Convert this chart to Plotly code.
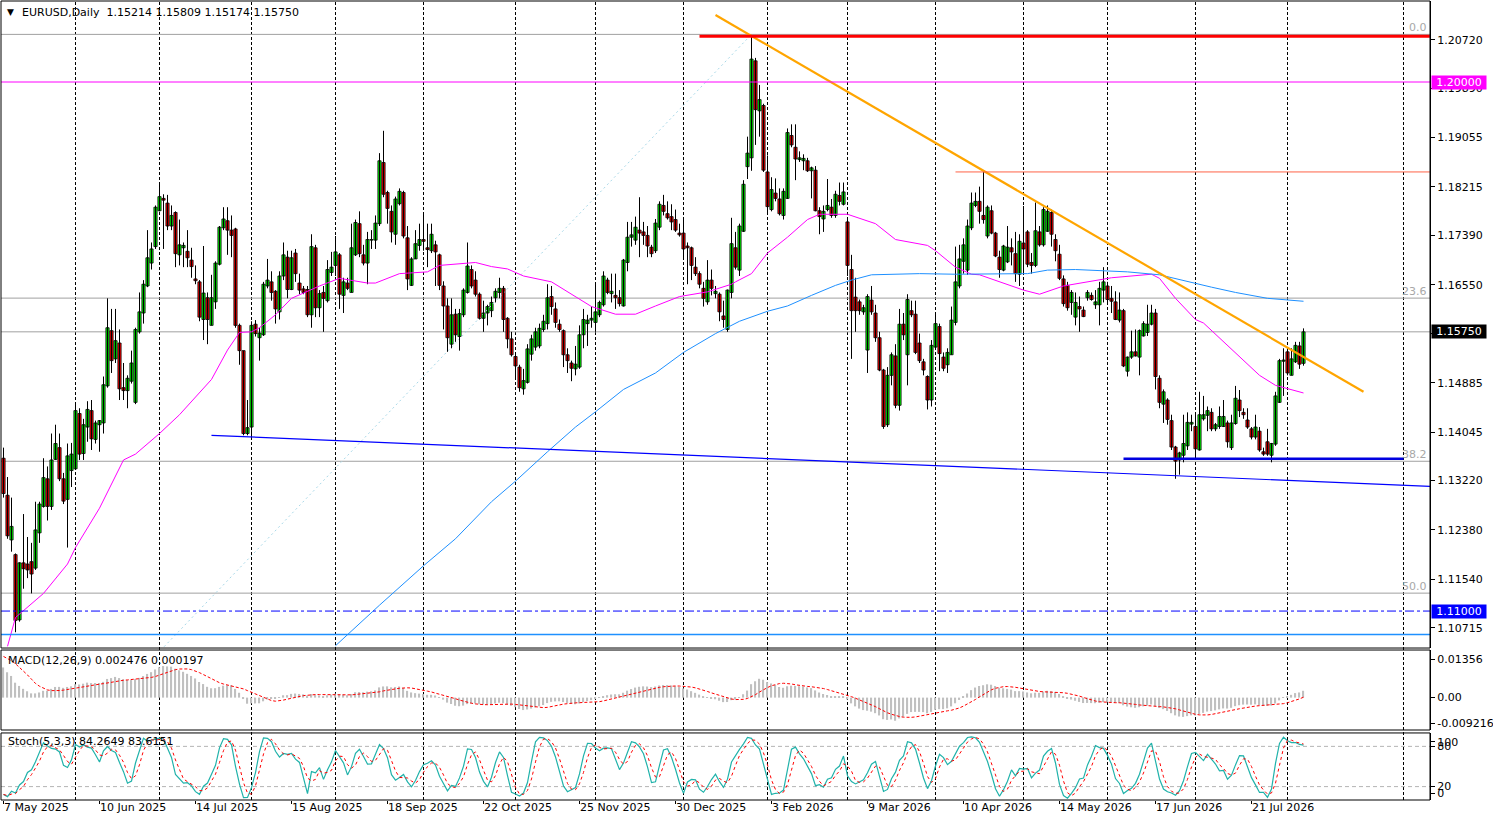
import pandas as pd
import numpy as np
import plotly.graph_objects as go

# ---------------- data ----------------
# MT4 daily bars: business days without 25 Dec / 1 Jan
skip_days = ("12-25", "01-01")
all_days = [d for d in pd.bdate_range("2025-05-07", periods=340) if d.strftime("%m-%d") not in skip_days]

opens = [
    1.1360, 1.1297, 1.1221, 1.1196, 1.1085, 1.1182, 1.1180, 1.1184, 1.1173, 1.1233,
    1.1278, 1.1325, 1.1278, 1.1358, 1.1378, 1.1325, 1.1290, 1.1339, 1.1342, 1.1436,
    1.1368, 1.1413, 1.1441, 1.1392, 1.1417, 1.1420, 1.1483, 1.1577, 1.1529, 1.1556,
    1.1480, 1.1475, 1.1491, 1.1455, 1.1575, 1.1607, 1.1653, 1.1692, 1.1720, 1.1781,
    1.1802, 1.1794, 1.1755, 1.1778, 1.1706, 1.1718, 1.1712, 1.1697, 1.1665, 1.1660,
    1.1596, 1.1633, 1.1586, 1.1626, 1.1690, 1.1752, 1.1764, 1.1748, 1.1750, 1.1586,
    1.1543, 1.1402, 1.1413, 1.1588, 1.1565, 1.1570, 1.1653, 1.1660, 1.1644, 1.1609,
    1.1670, 1.1702, 1.1647, 1.1709, 1.1658, 1.1648, 1.1647, 1.1604, 1.1718, 1.1616,
    1.1642, 1.1628, 1.1676, 1.1688, 1.1706, 1.1637, 1.1658, 1.1642, 1.1706, 1.1759,
    1.1706, 1.1692, 1.1731, 1.1731, 1.1759, 1.1863, 1.1812, 1.1780, 1.1741, 1.1793,
    1.1812, 1.1735, 1.1654, 1.1699, 1.1722, 1.1732, 1.1718, 1.1713, 1.1723, 1.1706,
    1.1653, 1.1619, 1.1554, 1.1605, 1.1567, 1.1604, 1.1642, 1.1681, 1.1663, 1.1639,
    1.1598, 1.1607, 1.1611, 1.1633, 1.1642, 1.1649, 1.1598, 1.1563, 1.1533, 1.1515,
    1.1478, 1.1489, 1.1537, 1.1549, 1.1551, 1.1579, 1.1589, 1.1635, 1.1614, 1.1588,
    1.1577, 1.1536, 1.1522, 1.1512, 1.1515, 1.1570, 1.1589, 1.1595, 1.1591, 1.1604,
    1.1621, 1.1663, 1.1640, 1.1637, 1.1633, 1.1619, 1.1693, 1.1736, 1.1731, 1.1748,
    1.1745, 1.1739, 1.1719, 1.1713, 1.1753, 1.1790, 1.1776, 1.1771, 1.1766, 1.1743,
    1.1743, 1.1721, 1.1718, 1.1685, 1.1674, 1.1649, 1.1626, 1.1663, 1.1640, 1.1639,
    1.1602, 1.1579, 1.1642, 1.1718, 1.1680, 1.1746, 1.1856, 1.1871, 1.2036, 1.1951,
    1.1960, 1.1847, 1.1783, 1.1811, 1.1801, 1.1773, 1.1802, 1.1909, 1.1889, 1.1868,
    1.1866, 1.1866, 1.1849, 1.1850, 1.1781, 1.1767, 1.1783, 1.1787, 1.1773, 1.1807,
    1.1792, 1.1762, 1.1681, 1.1634, 1.1626, 1.1609, 1.1544, 1.1629, 1.1607, 1.1565,
    1.1510, 1.1417, 1.1501, 1.1534, 1.1450, 1.1588, 1.1536, 1.1611, 1.1605, 1.1556,
    1.1524, 1.1499, 1.1459, 1.1549, 1.1584, 1.1532, 1.1519, 1.1536, 1.1591, 1.1653,
    1.1695, 1.1680, 1.1752, 1.1790, 1.1797, 1.1773, 1.1738, 1.1781, 1.1743, 1.1702,
    1.1680, 1.1694, 1.1718, 1.1708, 1.1673, 1.1726, 1.1745, 1.1693, 1.1688, 1.1745,
    1.1723, 1.1746, 1.1778, 1.1732, 1.1707, 1.1665, 1.1654, 1.1625, 1.1600, 1.1618,
    1.1612, 1.1633, 1.1637, 1.1621, 1.1621, 1.1646, 1.1653, 1.1632, 1.1626, 1.1595,
    1.1611, 1.1508, 1.1532, 1.1541, 1.1532, 1.1568, 1.1574, 1.1588, 1.1607, 1.1496,
    1.1452, 1.1459, 1.1424, 1.1379, 1.1357, 1.1365, 1.1381, 1.1418, 1.1414, 1.1374,
    1.1427, 1.1433, 1.1438, 1.1410, 1.1414, 1.1414, 1.1420, 1.1378, 1.1419, 1.1459,
    1.1438, 1.1425, 1.1410, 1.1396, 1.1406, 1.1371, 1.1388, 1.1365, 1.1384, 1.1455,
    1.1525, 1.1541, 1.1501, 1.1524, 1.1551, 1.15214,
]
highs = [
    1.1378, 1.1328, 1.1293, 1.1198, 1.1183, 1.1265, 1.1226, 1.1216, 1.1286, 1.1286,
    1.1360, 1.1346, 1.1402, 1.1417, 1.1402, 1.1335, 1.1385, 1.1386, 1.1452, 1.1445,
    1.1427, 1.1457, 1.1459, 1.1424, 1.1425, 1.1499, 1.1632, 1.1614, 1.1614, 1.1579,
    1.1522, 1.1501, 1.1543, 1.1582, 1.1642, 1.1663, 1.1748, 1.1727, 1.1790, 1.1829,
    1.1809, 1.1808, 1.1790, 1.1780, 1.1766, 1.1727, 1.1748, 1.1718, 1.1688, 1.1663,
    1.1721, 1.1642, 1.1672, 1.1695, 1.1755, 1.1787, 1.1787, 1.1773, 1.1752, 1.1589,
    1.1543, 1.1459, 1.1593, 1.1595, 1.1582, 1.1660, 1.1699, 1.1678, 1.1646, 1.1678,
    1.1727, 1.1713, 1.1713, 1.1716, 1.1674, 1.1653, 1.1653, 1.1741, 1.1723, 1.1646,
    1.1653, 1.1697, 1.1711, 1.1738, 1.1709, 1.1667, 1.1667, 1.1759, 1.1766, 1.1780,
    1.1723, 1.1745, 1.1748, 1.1773, 1.1879, 1.1917, 1.1815, 1.1790, 1.1805, 1.1819,
    1.1815, 1.1755, 1.1702, 1.1748, 1.1759, 1.1776, 1.1759, 1.1759, 1.1730, 1.1708,
    1.1661, 1.1632, 1.1632, 1.1614, 1.1614, 1.1649, 1.1727, 1.1688, 1.1678, 1.1642,
    1.1628, 1.1621, 1.1635, 1.1649, 1.1667, 1.1653, 1.1600, 1.1575, 1.1536, 1.1519,
    1.1512, 1.1554, 1.1570, 1.1582, 1.1589, 1.1604, 1.1656, 1.1653, 1.1625, 1.1596,
    1.1579, 1.1547, 1.1526, 1.1551, 1.1586, 1.1614, 1.1604, 1.1618, 1.1656, 1.1628,
    1.1678, 1.1667, 1.1674, 1.1674, 1.1646, 1.1699, 1.1762, 1.1762, 1.1771, 1.1804,
    1.1762, 1.1755, 1.1723, 1.1767, 1.1797, 1.1808, 1.1797, 1.1792, 1.1783, 1.1759,
    1.1766, 1.1727, 1.1720, 1.1702, 1.1678, 1.1660, 1.1697, 1.1681, 1.1653, 1.1642,
    1.1628, 1.1647, 1.1769, 1.1745, 1.1759, 1.1833, 1.1907, 1.2080, 1.2041, 1.1995,
    1.1963, 1.1875, 1.1838, 1.1836, 1.1819, 1.1819, 1.1921, 1.1928, 1.1928, 1.1882,
    1.1877, 1.1871, 1.1856, 1.1857, 1.1787, 1.1790, 1.1835, 1.1801, 1.1815, 1.1829,
    1.1829, 1.1766, 1.1706, 1.1667, 1.1630, 1.1621, 1.1639, 1.1653, 1.1621, 1.1575,
    1.1512, 1.1515, 1.1540, 1.1554, 1.1614, 1.1607, 1.1639, 1.1628, 1.1628, 1.1572,
    1.1529, 1.1501, 1.1561, 1.1607, 1.1589, 1.1540, 1.1547, 1.1618, 1.1720, 1.1723,
    1.1734, 1.1766, 1.1812, 1.1812, 1.1822, 1.1850, 1.1790, 1.1790, 1.1745, 1.1713,
    1.1723, 1.1755, 1.1734, 1.1745, 1.1741, 1.1789, 1.1748, 1.1709, 1.1795, 1.1755,
    1.1787, 1.1790, 1.1783, 1.1741, 1.1723, 1.1671, 1.1660, 1.1646, 1.1642, 1.1635,
    1.1618, 1.1646, 1.1642, 1.1646, 1.1660, 1.1685, 1.1660, 1.1653, 1.1644, 1.1642,
    1.1614, 1.1533, 1.1577, 1.1579, 1.1579, 1.1593, 1.1621, 1.1621, 1.1614, 1.1501,
    1.1477, 1.1462, 1.1434, 1.1381, 1.1371, 1.1434, 1.1438, 1.1434, 1.1434, 1.1473,
    1.1466, 1.1448, 1.1445, 1.1420, 1.1448, 1.1459, 1.1424, 1.1434, 1.1483, 1.1476,
    1.1445, 1.1445, 1.1413, 1.1434, 1.1413, 1.1378, 1.1410, 1.1386, 1.1473, 1.1529,
    1.1547, 1.1547, 1.1547, 1.1558, 1.1558, 1.15809,
]
lows = [
    1.1293, 1.1223, 1.1201, 1.1064, 1.1082, 1.1138, 1.1156, 1.1130, 1.1170, 1.1216,
    1.1276, 1.1254, 1.1272, 1.1357, 1.1321, 1.1282, 1.1208, 1.1311, 1.1340, 1.1357,
    1.1357, 1.1388, 1.1374, 1.1385, 1.1371, 1.1402, 1.1480, 1.1505, 1.1522, 1.1459,
    1.1459, 1.1445, 1.1487, 1.1452, 1.1572, 1.1589, 1.1651, 1.1681, 1.1716, 1.1780,
    1.1716, 1.1748, 1.1748, 1.1685, 1.1688, 1.1685, 1.1685, 1.1667, 1.1656, 1.1593,
    1.1561, 1.1554, 1.1586, 1.1614, 1.1688, 1.1748, 1.1706, 1.1702, 1.1582, 1.1519,
    1.1399, 1.1399, 1.1395, 1.1567, 1.1526, 1.1568, 1.1649, 1.1628, 1.1589, 1.1596,
    1.1663, 1.1632, 1.1646, 1.1660, 1.1639, 1.1639, 1.1600, 1.1582, 1.1600, 1.1600,
    1.1575, 1.1625, 1.1670, 1.1670, 1.1614, 1.1607, 1.1646, 1.1642, 1.1704, 1.1702,
    1.1688, 1.1656, 1.1716, 1.1716, 1.1755, 1.1804, 1.1759, 1.1727, 1.1723, 1.1790,
    1.1734, 1.1646, 1.1653, 1.1699, 1.1713, 1.1713, 1.1685, 1.1709, 1.1653, 1.1646,
    1.1579, 1.1541, 1.1547, 1.1558, 1.1543, 1.1600, 1.1640, 1.1649, 1.1635, 1.1596,
    1.1575, 1.1586, 1.1600, 1.1625, 1.1632, 1.1575, 1.1547, 1.1533, 1.1498, 1.1473,
    1.1468, 1.1487, 1.1526, 1.1543, 1.1547, 1.1575, 1.1579, 1.1604, 1.1582, 1.1575,
    1.1515, 1.1505, 1.1491, 1.1501, 1.1512, 1.1547, 1.1551, 1.1582, 1.1575, 1.1600,
    1.1618, 1.1639, 1.1625, 1.1614, 1.1618, 1.1618, 1.1678, 1.1720, 1.1723, 1.1702,
    1.1723, 1.1702, 1.1702, 1.1709, 1.1748, 1.1773, 1.1766, 1.1748, 1.1745, 1.1737,
    1.1699, 1.1656, 1.1663, 1.1670, 1.1649, 1.1618, 1.1621, 1.1637, 1.1632, 1.1593,
    1.1582, 1.1575, 1.1632, 1.1681, 1.1670, 1.1745, 1.1835, 1.1849, 1.1893, 1.1907,
    1.1847, 1.1776, 1.1780, 1.1797, 1.1773, 1.1766, 1.1801, 1.1889, 1.1833, 1.1864,
    1.1850, 1.1847, 1.1802, 1.1780, 1.1741, 1.1745, 1.1780, 1.1769, 1.1769, 1.1790,
    1.1790, 1.1670, 1.1529, 1.1575, 1.1604, 1.1604, 1.1505, 1.1604, 1.1558, 1.1508,
    1.1410, 1.1413, 1.1484, 1.1445, 1.1441, 1.1561, 1.1484, 1.1600, 1.1537, 1.1522,
    1.1501, 1.1443, 1.1448, 1.1547, 1.1508, 1.1508, 1.1505, 1.1536, 1.1586, 1.1649,
    1.1674, 1.1672, 1.1748, 1.1787, 1.1759, 1.1759, 1.1734, 1.1741, 1.1702, 1.1667,
    1.1678, 1.1692, 1.1688, 1.1660, 1.1653, 1.1674, 1.1685, 1.1674, 1.1685, 1.1720,
    1.1720, 1.1745, 1.1720, 1.1695, 1.1663, 1.1618, 1.1611, 1.1604, 1.1586, 1.1575,
    1.1600, 1.1628, 1.1628, 1.1614, 1.1586, 1.1625, 1.1621, 1.1607, 1.1595, 1.1591,
    1.1515, 1.1499, 1.1529, 1.1533, 1.1501, 1.1567, 1.1568, 1.1586, 1.1477, 1.1445,
    1.1420, 1.1417, 1.1374, 1.1325, 1.1332, 1.1353, 1.1374, 1.1406, 1.1360, 1.1373,
    1.1424, 1.1406, 1.1406, 1.1406, 1.1410, 1.1413, 1.1378, 1.1374, 1.1417, 1.1430,
    1.1427, 1.1410, 1.1392, 1.1392, 1.1371, 1.1364, 1.1364, 1.1353, 1.1381, 1.1454,
    1.1466, 1.1501, 1.1501, 1.1522, 1.1512, 1.15174,
]
closes = [
    1.1300, 1.1228, 1.1244, 1.1084, 1.1182, 1.1172, 1.1170, 1.1163, 1.1238, 1.1282,
    1.1327, 1.1278, 1.1357, 1.1385, 1.1325, 1.1287, 1.1364, 1.1367, 1.1441, 1.1367,
    1.1417, 1.1443, 1.1393, 1.1420, 1.1424, 1.1485, 1.1582, 1.1526, 1.1560, 1.1478,
    1.1475, 1.1496, 1.1522, 1.1579, 1.1609, 1.1656, 1.1701, 1.1716, 1.1787, 1.1805,
    1.1799, 1.1755, 1.1773, 1.1708, 1.1723, 1.1722, 1.1701, 1.1686, 1.1662, 1.1600,
    1.1641, 1.1596, 1.1633, 1.1692, 1.1753, 1.1767, 1.1748, 1.1739, 1.1586, 1.1543,
    1.1402, 1.1412, 1.1586, 1.1572, 1.1573, 1.1656, 1.1663, 1.1642, 1.1614, 1.1670,
    1.1706, 1.1647, 1.1701, 1.1674, 1.1646, 1.1642, 1.1604, 1.1720, 1.1616, 1.1640,
    1.1632, 1.1681, 1.1685, 1.1711, 1.1639, 1.1660, 1.1649, 1.1718, 1.1761, 1.1708,
    1.1692, 1.1732, 1.1732, 1.1760, 1.1866, 1.1809, 1.1785, 1.1745, 1.1801, 1.1814,
    1.1738, 1.1665, 1.1699, 1.1725, 1.1732, 1.1729, 1.1715, 1.1741, 1.1711, 1.1654,
    1.1619, 1.1565, 1.1604, 1.1570, 1.1606, 1.1646, 1.1687, 1.1653, 1.1639, 1.1598,
    1.1607, 1.1618, 1.1625, 1.1644, 1.1649, 1.1596, 1.1563, 1.1536, 1.1517, 1.1480,
    1.1492, 1.1546, 1.1563, 1.1575, 1.1581, 1.1593, 1.1633, 1.1618, 1.1591, 1.1579,
    1.1536, 1.1526, 1.1513, 1.1520, 1.1570, 1.1596, 1.1595, 1.1598, 1.1609, 1.1625,
    1.1670, 1.1642, 1.1644, 1.1633, 1.1623, 1.1697, 1.1736, 1.1740, 1.1753, 1.1743,
    1.1739, 1.1721, 1.1708, 1.1760, 1.1792, 1.1780, 1.1769, 1.1762, 1.1748, 1.1740,
    1.1716, 1.1718, 1.1688, 1.1674, 1.1656, 1.1632, 1.1663, 1.1649, 1.1644, 1.1609,
    1.1596, 1.1646, 1.1725, 1.1685, 1.1755, 1.1826, 1.1879, 1.2039, 1.1953, 1.1970,
    1.1850, 1.1788, 1.1817, 1.1802, 1.1776, 1.1814, 1.1914, 1.1893, 1.1869, 1.1871,
    1.1870, 1.1849, 1.1854, 1.1781, 1.1771, 1.1780, 1.1790, 1.1773, 1.1809, 1.1797,
    1.1813, 1.1688, 1.1611, 1.1611, 1.1611, 1.1616, 1.1635, 1.1609, 1.1565, 1.1510,
    1.1414, 1.1501, 1.1536, 1.1450, 1.1588, 1.1570, 1.1630, 1.1604, 1.1540, 1.1526,
    1.1510, 1.1459, 1.1552, 1.1589, 1.1538, 1.1513, 1.1540, 1.1595, 1.1660, 1.1699,
    1.1723, 1.1755, 1.1794, 1.1797, 1.1780, 1.1766, 1.1787, 1.1743, 1.1704, 1.1681,
    1.1721, 1.1719, 1.1711, 1.1674, 1.1729, 1.1716, 1.1690, 1.1688, 1.1747, 1.1723,
    1.1783, 1.1780, 1.1741, 1.1713, 1.1666, 1.1623, 1.1616, 1.1642, 1.1625, 1.1614,
    1.1601, 1.1642, 1.1630, 1.1626, 1.1649, 1.1660, 1.1630, 1.1627, 1.1596, 1.1612,
    1.1517, 1.1532, 1.1541, 1.1534, 1.1577, 1.1589, 1.1588, 1.1607, 1.1499, 1.1455,
    1.1473, 1.1426, 1.1379, 1.1355, 1.1369, 1.1385, 1.1421, 1.1421, 1.1376, 1.1434,
    1.1434, 1.1441, 1.1410, 1.1417, 1.1431, 1.1431, 1.1388, 1.1420, 1.1462, 1.1441,
    1.1434, 1.1413, 1.1396, 1.1413, 1.1374, 1.1367, 1.1367, 1.1385, 1.1466, 1.1526,
    1.1527, 1.1505, 1.1529, 1.1552, 1.1520, 1.15750,
]

# moving averages as drawn on the chart (bar index, price)
ma_pink_bars = [1, 3, 10, 16, 18, 24, 30, 33, 39, 44, 52, 56, 59, 62, 64, 68, 72, 79, 84, 91,
                93, 99, 106, 109, 118, 122, 126, 130, 137, 143, 147, 153, 158, 163, 169, 176, 182, 183, 187, 191,
                196, 201, 204, 211, 218, 223, 231, 233, 238, 242, 244, 255, 259, 265, 272, 277, 287, 289, 293, 298,
                300, 304, 309, 314, 318, 325]
ma_pink_vals = [1.1040, 1.1089, 1.1130, 1.1180, 1.1208, 1.1275, 1.1357, 1.1367, 1.1402, 1.1434,
                1.1494, 1.1544, 1.1574, 1.1575, 1.1582, 1.1604, 1.1632, 1.1653, 1.1666, 1.1658,
                1.1658, 1.1674, 1.1677, 1.1688, 1.1693, 1.1686, 1.1682, 1.1670, 1.1660, 1.1635,
                1.1618, 1.1605, 1.1605, 1.1619, 1.1635, 1.1643, 1.1656, 1.1660, 1.1674, 1.1709,
                1.1736, 1.1766, 1.1775, 1.1775, 1.1759, 1.1732, 1.1722, 1.1713, 1.1685, 1.1673,
                1.1672, 1.1646, 1.1639, 1.1653, 1.1661, 1.1667, 1.1673, 1.1666, 1.1632, 1.1596,
                1.1590, 1.1565, 1.1533, 1.1501, 1.1484, 1.1471]
ma_blue_bars = [83, 94, 105, 113, 122, 128, 136, 143, 148, 155, 163, 170, 178, 184, 191, 196,
                202, 208, 212, 217, 229, 238, 256, 261, 268, 281, 289, 296, 302, 308, 316, 325]
ma_blue_vals = [1.1041, 1.1110, 1.1177, 1.1223, 1.1286, 1.1321, 1.1371, 1.1413, 1.1439, 1.1477,
                1.1505, 1.1540, 1.1572, 1.1593, 1.1610, 1.1619, 1.1637, 1.1654, 1.1663, 1.1672,
                1.1674, 1.1673, 1.1674, 1.1680, 1.1681, 1.1677, 1.1672, 1.1660, 1.1651, 1.1642,
                1.1632, 1.1627]

# drawn objects
down_trend_bars = [178, 340]
down_trend_vals = [1.2114, 1.1473]
low_trend_bars = [52, 357]
low_trend_vals = [1.1399, 1.1312]
fib_high, fib_low = 1.2081, 1.0180
fib_anchor_bars = [-81, 187]
fib_ratios = [0.0, 23.6, 38.2, 50.0]
high_line, high_line_from = 1.2078, 174
mid_line, mid_line_from = 1.1847, 238
support_line, support_bars = 1.1359, [280, 350]
round_high, round_low, base_line = 1.2000, 1.1100, 1.1060
extra_grid_bars = [350]

# MACD state before the first visible bar
ema12_seed, ema26_seed, signal_seed = 1.1350, 1.1230, 0.0151

price_ticks = [1.10715, 1.11540, 1.12380, 1.13220, 1.14045, 1.14885, 1.15720,
               1.16550, 1.17390, 1.18215, 1.19055, 1.19890, 1.20720]
macd_ticks = [0.01356, 0.0, -0.009216]
macd_ticktext = ["0.01356", "0.00", "-0.009216"]

# ---------------- indicators ----------------
n = len(closes)
bars = list(range(n))
dates = all_days[:n]
c = np.array(closes)

macd = np.empty(n)
e12, e26 = ema12_seed, ema26_seed
for i in range(n):
    e12 += 2 / 13 * (c[i] - e12)
    e26 += 2 / 27 * (c[i] - e26)
    macd[i] = e12 - e26
padded = np.concatenate([np.full(8, signal_seed), macd])
signal = pd.Series(padded).rolling(9).mean().to_numpy()[8:]

hh = pd.Series(highs).rolling(5, min_periods=1).max()
ll = pd.Series(lows).rolling(5, min_periods=1).min()
num = (pd.Series(closes) - ll).rolling(3, min_periods=1).sum()
den = (hh - ll).rolling(3, min_periods=1).sum()
stoch_k = 100 * num / den
stoch_d = stoch_k.rolling(3, min_periods=1).mean()

fib_levels = [fib_high - r / 100 * (fib_high - fib_low) for r in fib_ratios]
month_bars = [i for i in range(1, n) if dates[i].month != dates[i - 1].month] + extra_grid_bars
label_bars = list(range(0, n, 24))

# candle pieces
up = [i for i in bars if closes[i] >= opens[i]]
dn = [i for i in bars if closes[i] < opens[i]]
min_body = 0.00004  # so that dojis still show as a flat box
wick_x, wick_y = [], []
for i in bars:
    wick_x += [i, i, None]
    wick_y += [lows[i], highs[i], None]

# ---------------- figure ----------------
main_dom = [0.1902, 1.0]
macd_dom = [0.0876, 0.1877]
stoch_dom = [0.0, 0.0839]
font = dict(family="DejaVu Sans", size=11, color="black")

fig = go.Figure()

fig.add_trace(go.Scatter(x=fib_anchor_bars, y=[fib_low, fib_high], mode="lines",
                         line=dict(color="#a8d8e8", width=1, dash="2px,3px"), yaxis="y"))
fig.add_trace(go.Scatter(x=wick_x, y=wick_y, mode="lines", line=dict(color="black", width=1),
                         yaxis="y"))
fig.add_trace(go.Bar(x=up, base=[opens[i] for i in up],
                     y=[max(closes[i] - opens[i], min_body) for i in up], width=0.8,
                     marker=dict(color="#00ff00", line=dict(color="black", width=0.8)), yaxis="y"))
fig.add_trace(go.Bar(x=dn, base=[closes[i] for i in dn],
                     y=[max(opens[i] - closes[i], min_body) for i in dn], width=0.8,
                     marker=dict(color="#ff0000", line=dict(color="black", width=0.8)), yaxis="y"))

fig.add_trace(go.Scatter(x=ma_pink_bars, y=ma_pink_vals, mode="lines",
                         line=dict(color="#ff00ff", width=1), yaxis="y"))
fig.add_trace(go.Scatter(x=ma_blue_bars, y=ma_blue_vals, mode="lines",
                         line=dict(color="#1e90ff", width=1), yaxis="y"))
fig.add_trace(go.Scatter(x=low_trend_bars, y=low_trend_vals, mode="lines",
                         line=dict(color="#0000ff", width=1.2), yaxis="y"))
fig.add_trace(go.Scatter(x=down_trend_bars, y=down_trend_vals, mode="lines",
                         line=dict(color="#ffa500", width=2.2), yaxis="y"))
fig.add_trace(go.Scatter(x=support_bars, y=[support_line, support_line], mode="lines",
                         line=dict(color="#0000e0", width=2.5), yaxis="y"))

# MACD pane
fig.add_trace(go.Bar(x=bars, y=macd, width=0.3, marker=dict(color="#c0c0c0", line=dict(width=0)),
                     xaxis="x", yaxis="y2"))
fig.add_trace(go.Scatter(x=bars, y=signal, mode="lines",
                         line=dict(color="#ff0000", width=1, dash="3px,2px"), yaxis="y2"))

# Stochastic pane
fig.add_trace(go.Scatter(x=bars, y=stoch_k, mode="lines",
                         line=dict(color="#20b2aa", width=1.2), yaxis="y3"))
fig.add_trace(go.Scatter(x=bars, y=stoch_d, mode="lines",
                         line=dict(color="#ff0000", width=1, dash="3px,3px"), yaxis="y3"))

shapes = []
# vertical dotted grid
for b in month_bars:
    shapes.append(dict(type="line", xref="x", yref="paper", x0=b, x1=b, y0=0, y1=1,
                       line=dict(color="black", width=1, dash="3px,2px"), layer="below"))
# fibo levels and bid line
for lv in fib_levels:
    shapes.append(dict(type="line", xref="paper", yref="y", x0=0, x1=1, y0=lv, y1=lv,
                       line=dict(color="#a0a0a0", width=1), layer="below"))
shapes.append(dict(type="line", xref="paper", yref="y", x0=0, x1=1, y0=closes[-1], y1=closes[-1],
                   line=dict(color="#a0a0a0", width=1), layer="below"))
# horizontal objects
shapes.append(dict(type="line", xref="paper", yref="y", x0=0, x1=1, y0=round_high, y1=round_high,
                   line=dict(color="#ff00ff", width=1)))
shapes.append(dict(type="line", xref="paper", yref="y", x0=0, x1=1, y0=round_low, y1=round_low,
                   line=dict(color="#0000ff", width=1, dash="dashdot")))
shapes.append(dict(type="line", xref="paper", yref="y", x0=0, x1=1, y0=base_line, y1=base_line,
                   line=dict(color="#1e90ff", width=1.5)))
shapes.append(dict(type="line", xref="x", yref="y", x0=high_line_from, x1=356.6, y0=high_line, y1=high_line,
                   line=dict(color="#ff0000", width=3)))
shapes.append(dict(type="line", xref="x", yref="y", x0=mid_line_from, x1=356.6, y0=mid_line, y1=mid_line,
                   line=dict(color="#ff6347", width=1)))
# stochastic levels
for lv in (20, 80):
    shapes.append(dict(type="line", xref="paper", yref="y3", x0=0, x1=1, y0=lv, y1=lv,
                       line=dict(color="#b4b4b4", width=1, dash="4px,3px"), layer="below"))
# pane frames
for dom in (main_dom, macd_dom, stoch_dom):
    shapes.append(dict(type="rect", xref="paper", yref="paper", x0=0, x1=1, y0=dom[0], y1=dom[1],
                       line=dict(color="black", width=1), fillcolor="rgba(0,0,0,0)"))

ann = []
ann.append(dict(x=0, xref="paper", xshift=4, y=0.9862, yref="paper", xanchor="left", yanchor="middle",
                text="▼", font=dict(family="DejaVu Sans", size=9, color="black"), showarrow=False))
ann.append(dict(x=0, xref="paper", xshift=19, y=0.9862, yref="paper", xanchor="left", yanchor="middle",
                text="EURUSD,Daily&nbsp;&nbsp;%.5f %.5f %.5f %.5f" % (opens[-1], highs[-1], lows[-1], closes[-1]),
                font=font, showarrow=False))
ann.append(dict(x=0, xref="paper", xshift=5, y=0.1745, yref="paper", xanchor="left", yanchor="middle",
                text="MACD(12,26,9) 0.002476 0.000197", font=font, showarrow=False))
ann.append(dict(x=0, xref="paper", xshift=5, y=0.0735, yref="paper", xanchor="left", yanchor="middle",
                text="Stoch(5,3,3) 84.2649 83.6151", font=font, showarrow=False))
for r, lv in zip(fib_ratios, fib_levels):
    ann.append(dict(x=1, xref="paper", xshift=-1, y=lv, yref="y", xanchor="right", yanchor="bottom",
                    yshift=-2, text="%.1f" % r, font=dict(family="DejaVu Sans", size=11, color="#a8a8a8"),
                    showarrow=False))
for val, bg in ((round_high, "#ff00ff"), (closes[-1], "#000000"), (round_low, "#0000ff")):
    ann.append(dict(x=1, xref="paper", xshift=1, y=val, yref="y", xanchor="left", yanchor="middle",
                    text="%.5f" % val, font=dict(family="DejaVu Sans", size=11, color="white"),
                    bgcolor=bg, width=54, borderpad=0, showarrow=False))
for b in label_bars:
    d = dates[b]
    ann.append(dict(x=b, xref="x", xshift=-2, y=-0.0088, yref="paper", xanchor="left", yanchor="middle",
                    text="%d %s" % (d.day, d.strftime("%b %Y")), font=font, showarrow=False))

axis_common = dict(side="right", anchor="x", showgrid=False, zeroline=False, showline=True,
                   linecolor="black", linewidth=1, ticks="outside", ticklen=4, tickcolor="black",
                   tickfont=font, fixedrange=True)

fig.update_layout(
    template="none",
    width=1493, height=820,
    margin=dict(l=1, r=63, t=1, b=20),
    paper_bgcolor="white", plot_bgcolor="white",
    showlegend=False, hovermode=False, barmode="overlay",
    font=font,
    xaxis=dict(range=[-0.625, 356.625], anchor="y3", showgrid=False, zeroline=False,
               showticklabels=False, ticks="outside", ticklen=3, tickcolor="black",
               tickvals=label_bars, showline=False, fixedrange=True),
    yaxis=dict(domain=main_dom, range=[1.10371, 1.21378], tickvals=price_ticks,
               ticktext=["%.5f" % v for v in price_ticks], **axis_common),
    yaxis2=dict(domain=macd_dom, range=[-0.0115, 0.0169], tickvals=macd_ticks,
                ticktext=macd_ticktext, **axis_common),
    yaxis3=dict(domain=stoch_dom, range=[0, 100], tickvals=[87, 80, 20, 10],
                ticktext=["100", "80", "20", "0"], **axis_common),
    shapes=shapes,
    annotations=ann,
)

# the page's default body margin would push the chart off the window
fig.write_html("out.html", config={"displayModeBar": False},
               post_script="document.body.style.margin='0px';")
